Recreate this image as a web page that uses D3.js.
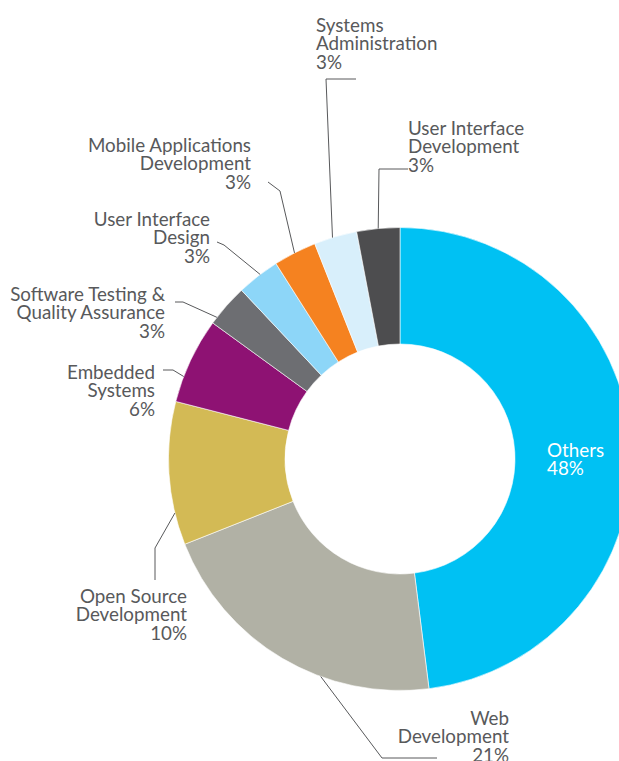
<!doctype html>
<html>
  <head>
    <script src="https://cdn.jsdelivr.net/npm/d3@7/dist/d3.min.js"></script>
    <style>
      body, html {
        margin: 0;
        background: #fff;
      }
      svg {
        display: block;
      }
      text.label {
        font-family: Lato, "Liberation Sans", sans-serif;
        font-size: 18.8px;
        fill: #58595b;
      }
      path.slice {
        stroke: #fff;
        stroke-width: 0.6px;
      }
      polyline.leader {
        fill: none;
        stroke: #58595b;
        stroke-width: 1px;
      }
    </style>
  </head>
  <body>
    <svg width="619" height="761"></svg>
    <script>
      // chart data, clockwise from 12 o'clock
      var categories = [
        ["Others"],
        ["Web", "Development"],
        ["Open Source", "Development"],
        ["Embedded", "Systems"],
        ["Software Testing &", "Quality Assurance"],
        ["User Interface", "Design"],
        ["Mobile Applications", "Development"],
        ["Systems", "Administration"],
        ["User Interface", "Development"]
      ];
      var values = [48, 21, 10, 6, 3, 3, 3, 3, 3];
      var colors = ["#00c1f3", "#b1b1a5", "#d3ba55", "#8e1273", "#6d6e72",
                    "#8dd6f8", "#f58220", "#d8effb", "#4d4d4f"];

      // label placement (layout only): anchor, x, first baseline,
      // elbow points of the leader, and where along the slice it lands
      var labelLayout = [
        {anchor: "start", x: 547, y: 457, fill: "#fff", leader: null},
        {anchor: "end", x: 509, y: 725, leader: [[437, 758], [382, 758]], t: 0.36},
        {anchor: "end", x: 187, y: 603, leader: [[155, 580], [155, 548]], t: 0.225},
        {anchor: "end", x: 155, y: 379, leader: [[163, 370], [173, 370]], t: 0.3},
        {anchor: "end", x: 165, y: 301, leader: [[175, 302], [183, 302]], t: 0.16},
        {anchor: "end", x: 210, y: 226, leader: [[217, 242], [224, 245]], t: 0.56},
        {anchor: "end", x: 251, y: 152, leader: [[268, 182], [280, 191]], t: 0.49},
        {anchor: "start", x: 316, y: 32, leader: [[356, 79], [326, 79]], t: 0.43},
        {anchor: "start", x: 408, y: 135, leader: [[408, 169], [379, 169]], t: 0.5}
      ];

      var cx = 400, cy = 459, outerR = 231.5, innerR = 115, lineH = 18.3;

      var svg = d3.select("svg");
      var g = svg.append("g").attr("transform", "translate(" + cx + "," + cy + ")");

      var pie = d3.pie().sort(null).value(d => d);
      var arcs = pie(values);

      var arc = d3.arc().innerRadius(innerR).outerRadius(outerR);

      g.selectAll("path.slice")
        .data(arcs)
        .enter()
        .append("path")
          .attr("class", "slice")
          .attr("d", arc)
          .attr("fill", (d, i) => colors[i]);

      // leader lines
      arcs.forEach(function (a, i) {
        var lay = labelLayout[i];
        if (!lay.leader) return;
        var ang = a.startAngle + lay.t * (a.endAngle - a.startAngle);
        var end = [cx + outerR * Math.sin(ang), cy - outerR * Math.cos(ang)];
        var pts = lay.leader.concat([end]);
        svg.append("polyline")
          .attr("class", "leader")
          .attr("points", pts.map(p => p.join(",")).join(" "));
      });

      // labels
      arcs.forEach(function (a, i) {
        var lay = labelLayout[i];
        var lines = categories[i].concat([values[i] + "%"]);
        var t = svg.append("text")
          .attr("class", "label")
          .attr("text-anchor", lay.anchor)
          .style("fill", lay.fill || null);
        lines.forEach(function (s, k) {
          t.append("tspan")
            .attr("x", lay.x)
            .attr("y", lay.y + k * lineH)
            .text(s);
        });
      });
    </script>
  </body>
</html>
